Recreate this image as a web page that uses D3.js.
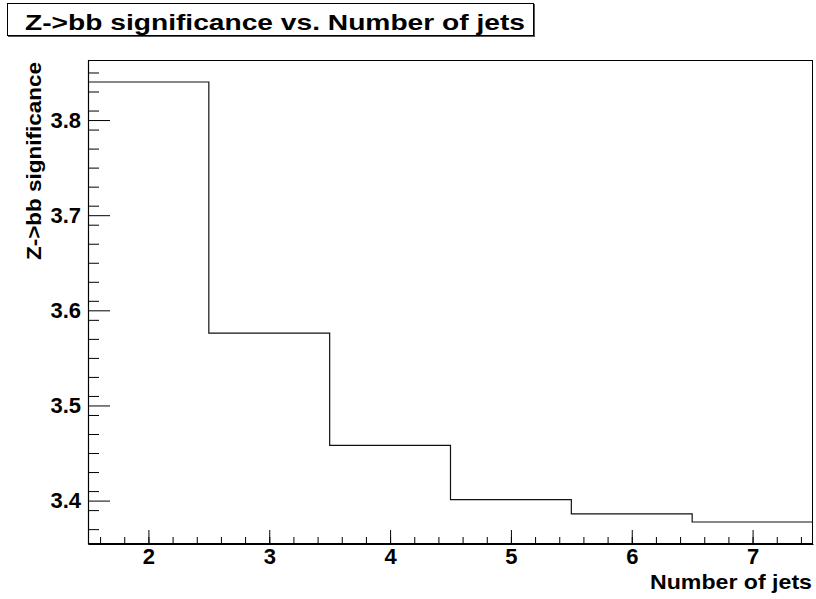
<!DOCTYPE html>
<html>
<head>
<meta charset="utf-8">
<script src="https://cdn.jsdelivr.net/npm/d3@7"></script>
<style>
    body { margin: 0; background: white; }
    svg { display: block; }
    text { font-family: "Liberation Sans", Arial, Helvetica, sans-serif; font-weight: bold; fill: black; }
</style>
</head>
<body>
<div id="chart"></div>
<script>
// Histogram data: one bin per jet multiplicity
const nJets = [2, 3, 4, 5, 6, 7];
const significance = [3.840, 3.576, 3.458, 3.401, 3.386, 3.3775];
const xTickValues = [2, 3, 4, 5, 6, 7];
const yTickValues = [3.4, 3.5, 3.6, 3.7, 3.8];
const chartTitle = 'Z->bb significance vs. Number of jets';
const xTitle = 'Number of jets';
const yTitle = 'Z->bb significance';

const W = 816, H = 599;
const margin = { top: 60, right: 3, bottom: 55, left: 88 };
const width = W - margin.left - margin.right;
const height = H - margin.top - margin.bottom;

const svg = d3.select('#chart')
    .append('svg')
    .attr('width', W)
    .attr('height', H);

// Title box (with a thin shadow on bottom/right)
svg.append('rect')
    .attr('x', 8.5).attr('y', 4.5)
    .attr('width', 526).attr('height', 32)
    .attr('fill', 'none')
    .attr('stroke', '#555')
    .attr('stroke-width', 1);
svg.append('rect')
    .attr('x', 7.5).attr('y', 3.5)
    .attr('width', 526).attr('height', 32)
    .attr('fill', 'white')
    .attr('stroke', 'black')
    .attr('stroke-width', 1);
svg.append('text')
    .attr('x', 25)
    .attr('y', 30)
    .style('font-size', '22px')
    .attr('textLength', 500)
    .attr('lengthAdjust', 'spacingAndGlyphs')
    .text(chartTitle);

const g = svg.append('g')
    .attr('transform', `translate(${margin.left},${margin.top})`);

// Scales: bins are centred on integers, y range padded like ROOT does
const x = d3.scaleLinear()
    .domain([nJets[0] - 0.5, nJets[nJets.length - 1] + 0.5])
    .range([0, width]);

const yMin = d3.min(significance), yMax = d3.max(significance);
const pad = (yMax - yMin) * 0.05;
const y = d3.scaleLinear()
    .domain([yMin - pad, yMax + pad])
    .range([height, 0]);

// Frame
g.append('rect')
    .attr('x', 0.5).attr('y', 0.5)
    .attr('width', width - 1).attr('height', height - 1)
    .attr('fill', 'none')
    .attr('stroke', 'black')
    .attr('stroke-width', 1);

// Minor ticks
const xMinor = d3.range(16, 75, 2).map(d => d / 10);
const yMinor = d3.range(3350, 3870, 20).map(d => d / 1000)
    .filter(d => d >= y.domain()[0] && d <= y.domain()[1]);

g.append('g')
    .attr('transform', `translate(0,${height})`)
    .call(d3.axisBottom(x).tickValues(xMinor).tickSize(-7).tickFormat(''))
    .call(a => a.select('.domain').remove());

g.append('g')
    .call(d3.axisLeft(y).tickValues(yMinor).tickSize(-11).tickFormat(''))
    .call(a => a.select('.domain').remove());

// Major axes
const xAxis = g.append('g')
    .attr('transform', `translate(0,${height})`)
    .call(d3.axisBottom(x).tickValues(xTickValues).tickSize(-14).tickSizeOuter(0).tickPadding(4).tickFormat(d3.format('d')));
xAxis.selectAll('text').style('font-size', '22px').attr('font-family', null);

const yAxis = g.append('g')
    .call(d3.axisLeft(y).tickValues(yTickValues).tickSize(-22).tickSizeOuter(0).tickPadding(7).tickFormat(d3.format('.1f')));
yAxis.selectAll('text').style('font-size', '22px').attr('font-family', null);

g.selectAll('.domain').attr('stroke', 'black').attr('stroke-width', 1.2);
g.selectAll('.tick line').attr('stroke', 'black');

// Histogram outline as a step line
const stepData = nJets.map((n, i) => ({ x: n - 0.5, v: significance[i] }));
stepData.push({ x: nJets[nJets.length - 1] + 0.5, v: significance[significance.length - 1] });

const line = d3.line()
    .x(d => x(d.x))
    .y(d => y(d.v))
    .curve(d3.curveStepAfter);

g.append('path')
    .datum(stepData)
    .attr('d', line)
    .attr('fill', 'none')
    .attr('stroke', '#111')
    .attr('stroke-width', 1.2);

// Axis titles
svg.append('text')
    .attr('x', 812)
    .attr('y', 589)
    .attr('text-anchor', 'end')
    .style('font-size', '21px')
    .attr('textLength', 162)
    .attr('lengthAdjust', 'spacingAndGlyphs')
    .text(xTitle);

svg.append('text')
    .attr('transform', 'translate(41,62) rotate(-90)')
    .attr('text-anchor', 'end')
    .style('font-size', '21px')
    .attr('textLength', 198)
    .attr('lengthAdjust', 'spacingAndGlyphs')
    .text(yTitle);
</script>
</body>
</html>
